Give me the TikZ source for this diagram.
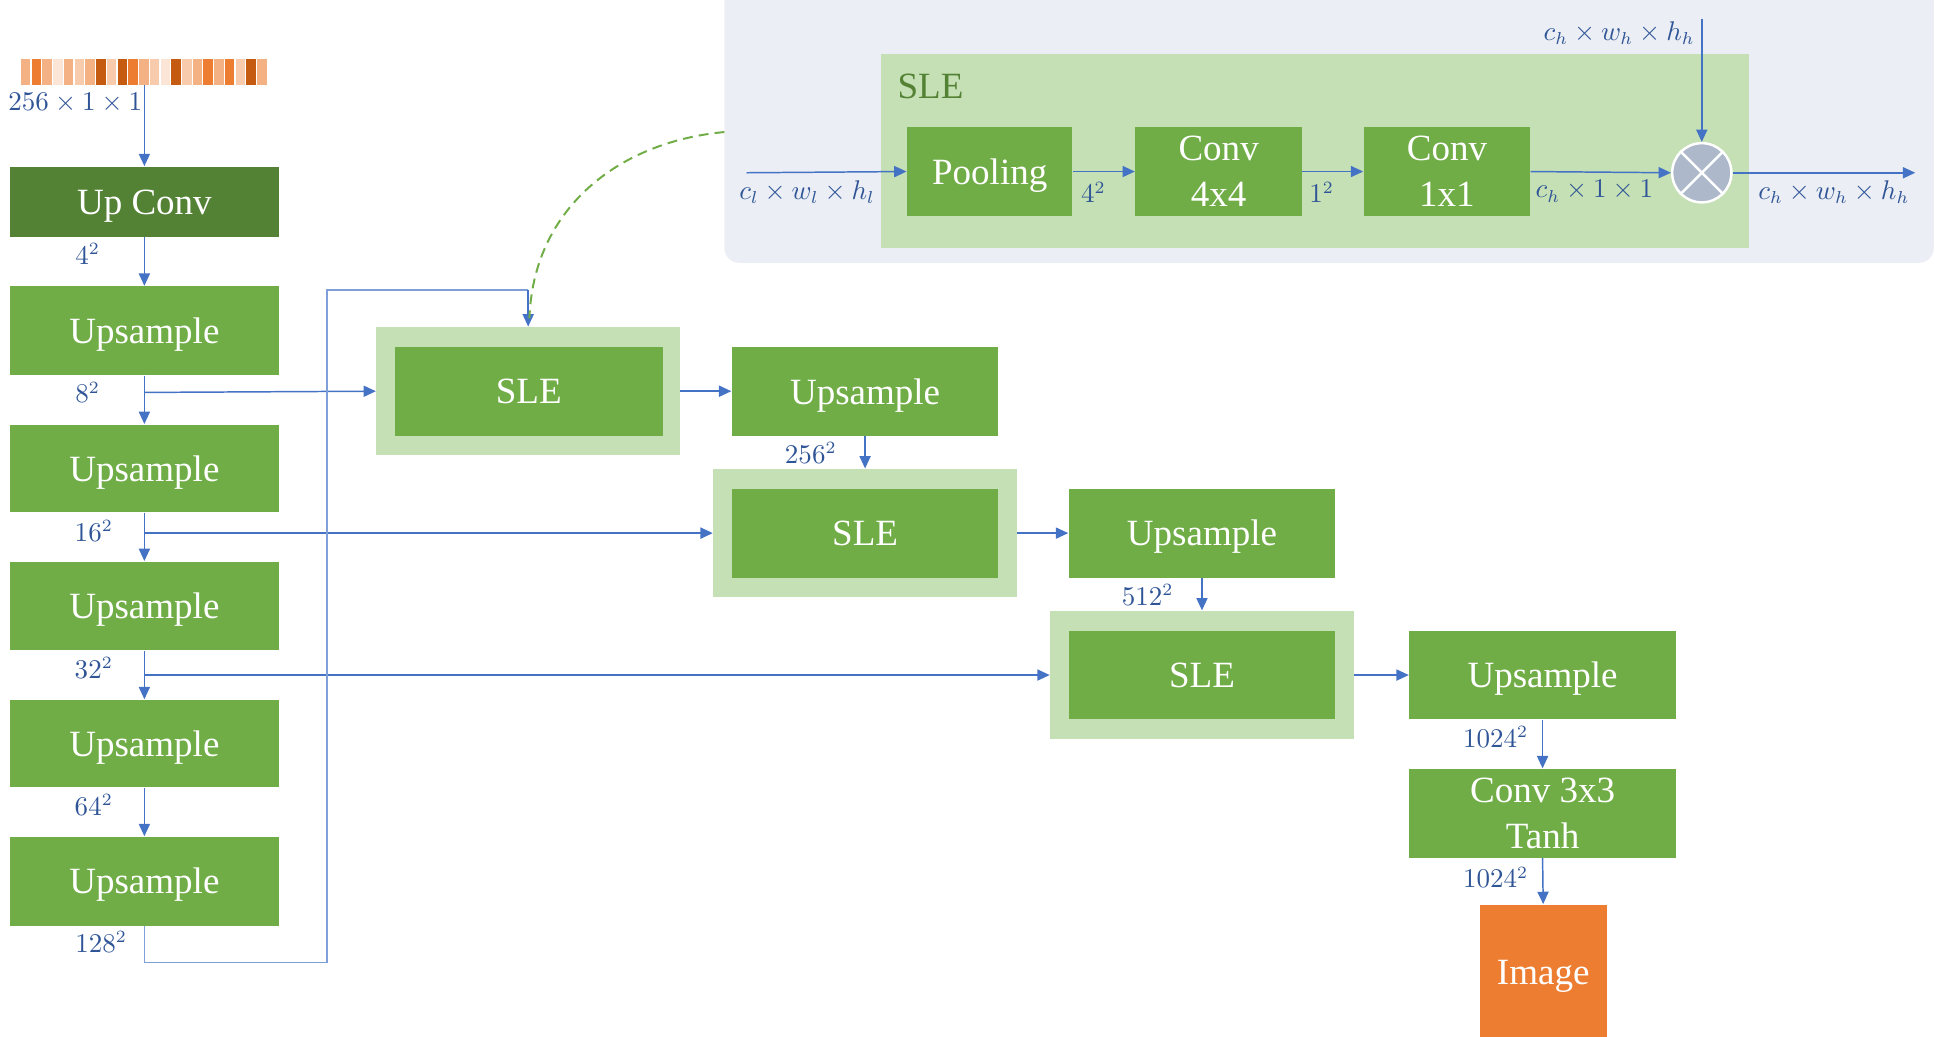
\documentclass[tikz,border=0pt]{standalone}
\usepackage{fontspec}
\setmainfont{Liberation Serif}
\usetikzlibrary{arrows.meta}
\definecolor{dg}{HTML}{548235}
\definecolor{mg}{HTML}{70AD47}
\definecolor{lg}{HTML}{C5E0B4}
\definecolor{ln}{HTML}{4472C4}
\definecolor{lnl}{HTML}{7F9FD8}
\definecolor{lb}{HTML}{2F5597}
\definecolor{pan}{HTML}{EBEEF4}
\definecolor{org}{HTML}{ED7D31}
\definecolor{multc}{HTML}{ADB9CA}
\definecolor{barp}{HTML}{F4B183}
\definecolor{baro}{HTML}{ED7D31}
\definecolor{barv}{HTML}{FBE5D6}
\definecolor{barl}{HTML}{F8CBAD}
\definecolor{bard}{HTML}{C55A11}
\tikzset{
  box/.style 2 args={draw=none, inner sep=0pt, minimum width={#1*0.5pt}, minimum height={#2*0.5pt}, align=center, text=white, text depth=0pt, font=\fontsize{15}{18.5}\selectfont},
  gbox/.style={fill=mg},
  obox/.style={fill=lg},
  lbl/.style={text=lb, inner sep=0pt, font=\fontsize{10.6}{12}\selectfont},
  arr/.style={draw=ln, line width=0.6pt, -{Triangle[length=5pt,width=4.5pt]}},
  plain/.style={draw=ln, line width=0.6pt}
}
\begin{document}
\begin{tikzpicture}[x=0.5pt,y=-0.5pt]
\useasboundingbox (0,0) rectangle (1568,840);
\clip (0,0) rectangle (1568,840);

% top panel
\fill[pan, rounded corners=6pt] (587,-20) rectangle (1567,213);
\fill[lg] (714,44) rectangle (1417,201);
\node[text=dg, inner sep=0pt, font=\fontsize{15}{18}\selectfont] (slelbl) at (754,70) {SLE};

\node[box={134}{72}, gbox] (pool) at (802,139) {Pooling};
\node[box={135}{72}, gbox] (c44) at (987.5,139) {Conv\\4x4};
\node[box={135}{72}, gbox] (c11) at (1172.5,139) {Conv\\1x1};
\node[circle, fill=multc, draw=white, line width=1pt, minimum size=24pt, inner sep=0pt] (mx) at (1379,140) {};
\draw[white, line width=1pt] (mx.north west) -- (mx.south east) (mx.north east) -- (mx.south west);
\coordinate (pin) at (605,140);
\coordinate (pout) at (1552,140);
\coordinate (ptop) at (1379,15);
\draw[arr] (pin) -- (pool.west);
\draw[arr] (pool.east) -- (c44.west);
\draw[arr] (c44.east) -- (c11.west);
\draw[arr] (c11.east) -- (mx.west);
\draw[arr] (mx.east) -- (pout);
\draw[arr] (ptop) -- (mx.north);
\node[lbl] (l1) at (654,156) {$c_l\times w_l\times h_l$};
\node[lbl] (l2) at (886,156) {$4^2$};
\node[lbl] (l3) at (1071,156) {$1^2$};
\node[lbl] (l4) at (1292,155) {$c_h\times 1\times 1$};
\node[lbl] (l5) at (1486,156) {$c_h\times w_h\times h_h$};
\node[lbl] (l6) at (1312,27) {$c_h\times w_h\times h_h$};

% input vector
\foreach \c [count=\i from 0] in {p,o,p,v,p,l,p,d,l,d,o,p,l,v,d,l,p,o,p,o,l,d,p} {
  \fill[bar\c] ({17+\i*8.7},48) rectangle ++(7.7,21);
}
\coordinate (vin) at (117,69);
\node[lbl] (lv) at (61,83) {$256\times 1\times 1$};

% left column
\node[box={218}{57}, fill=dg] (upc) at (117,163.5) {Up Conv};
\node[box={218}{72}, gbox] (u1) at (117,268) {Upsample};
\node[box={218}{71}, gbox] (u2) at (117,379.5) {Upsample};
\node[box={218}{72}, gbox] (u3) at (117,491) {Upsample};
\node[box={218}{71}, gbox] (u4) at (117,602.5) {Upsample};
\node[box={218}{72}, gbox] (u5) at (117,714) {Upsample};

\draw[arr] (vin) -- (upc.north);
\draw[arr] (upc.south) -- (u1.north);
\draw[arr] (u1.south) -- (u2.north);
\draw[arr] (u2.south) -- (u3.north);
\draw[arr] (u3.south) -- (u4.north);
\draw[arr] (u4.south) -- (u5.north);

\node[lbl] at (71,206) {$4^2$};
\node[lbl] at (71,318) {$8^2$};
\node[lbl] at (76,430) {$16^2$};
\node[lbl] at (76,541) {$32^2$};
\node[lbl] at (76,652) {$64^2$};
\node[lbl] at (82,763) {$128^2$};

% SLE chain
\node[box={246}{104}, obox] (s1o) at (428,317) {};
\node[box={217}{72}, gbox] (s1) at (428.5,317) {SLE};
\node[box={216}{72}, gbox] (r1) at (701,317) {Upsample};
\node[box={246}{104}, obox] (s2o) at (701,432) {};
\node[box={216}{72}, gbox] (s2) at (701,432) {SLE};
\node[box={216}{72}, gbox] (r2) at (974,432) {Upsample};
\node[box={246}{104}, obox] (s3o) at (974,547) {};
\node[box={216}{72}, gbox] (s3) at (974,547) {SLE};
\node[box={216}{72}, gbox] (r3) at (1250,547) {Upsample};
\node[box={216}{72}, gbox] (cv) at (1250,659) {Conv 3x3\\Tanh};
\node[box={103}{110}, fill=org] (img) at (1250.5,788) {Image};

\coordinate (j1) at (117,318);
\coordinate (j2) at (117,432);
\coordinate (j3) at (117,547);
\draw[arr] (j1) -- (s1o.west);
\draw[arr] (j2) -- (s2o.west);
\draw[arr] (j3) -- (s3o.west);

\coordinate (lp1) at (117,780);
\coordinate (lp2) at (265,780);
\coordinate (lp3) at (265,235);
\coordinate (lp4) at (428,235);
\draw[plain, draw=lnl] (u5.south) -- (lp1) -- (lp2) -- (lp3) -- (lp4);
\draw[arr] (lp4) -- (s1o.north);

\draw[arr] (s1o.east) -- (r1.west);
\draw[arr] (r1.south) -- (s2o.north);
\draw[arr] (s2o.east) -- (r2.west);
\draw[arr] (r2.south) -- (s3o.north);
\draw[arr] (s3o.east) -- (r3.west);
\draw[arr] (r3.south) -- (cv.north);
\draw[arr] (cv.south) -- (img.north);

\node[lbl] at (657,367) {$256^2$};
\node[lbl] at (930,482) {$512^2$};
\node[lbl] at (1212,597) {$1024^2$};
\node[lbl] at (1212,711) {$1024^2$};

% dashed link
\coordinate (pedge) at (587,107);
\draw[mg, line width=0.8pt, dash pattern=on 4pt off 2.5pt] (pedge) .. controls (500,115) and (432,170) .. (429,258);
\end{tikzpicture}
\end{document}
